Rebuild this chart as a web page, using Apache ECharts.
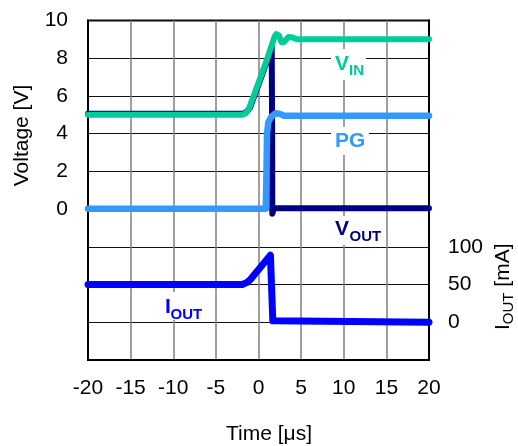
<!DOCTYPE html>
<html><head><meta charset="utf-8">
<script src="https://cdn.jsdelivr.net/npm/echarts@6/dist/echarts.min.js"></script>
<style>html,body{margin:0;padding:0;background:#fff}#c{width:518px;height:446px}</style>
</head><body><div id="c"></div>
<script>
// Data (time in µs)
const voltLabels = [0, 2, 4, 6, 8, 10];
const currLabels = [0, 50, 100];
const vinData  = [[-20,5.0],[-1.9,5.0],[-1.5,5.08],[-1.1,5.35],[0,6.7],[1.0,7.95],[1.9,9.15],[2.1,9.28],[2.4,9.2],[2.7,8.85],[3.0,8.85],[3.5,9.12],[4.0,9.1],[4.5,9.0],[20,9.0]];
const voutData = [[-20,5.06],[-1.8,5.06],[-1.4,5.15],[-1.0,5.38],[0.1,6.72],[1.1,7.98],[1.55,8.6],[1.6,4.0],[1.62,-0.25],[1.8,0.05],[20,0.05]];
const pgData   = [[-20,0.02],[0.85,0.02],[0.92,1.5],[1.0,4.0],[1.15,4.6],[1.5,4.9],[2.0,5.08],[2.5,5.05],[3.0,4.95],[20,4.95]];
const ioutData = [[-20,50],[-1.9,50],[-1.4,52.5],[-1.0,56],[1.4,89],[1.55,88],[1.68,2],[1.85,0],[20,0]];

const FONT = '"Liberation Sans", Arial, sans-serif';
const chart = echarts.init(document.getElementById('c'), null, {renderer:'canvas'});

function txt(x, y, text, color, size, weight, extra) {
  return Object.assign({
    type: 'text', x: x, y: y, z: 100,
    style: { text: text, fill: color, fontSize: size, fontWeight: weight || 'normal', fontFamily: FONT,
             textAlign: 'left', textVerticalAlign: 'middle', align: 'left', verticalAlign: 'middle' }
  }, extra || {});
}
function rect(x, y, w, h) {
  return { type: 'rect', z: 99, shape: {x: x, y: y, width: w, height: h}, style: {fill: '#fff'} };
}

const graphics = [
  rect(331, 49, 35, 31),
  txt(335, 64.2, 'V', '#00CC99', 21, 'bold'),
  txt(349, 71.2, 'IN', '#00CC99', 15, 'bold'),
  rect(331, 127, 38, 28),
  txt(335, 141, 'PG', '#3399FF', 21, 'bold'),
  rect(331, 216, 52, 29),
  txt(335, 229.5, 'V', '#000080', 21, 'bold'),
  txt(349.5, 237, 'OUT', '#000080', 15, 'bold'),
  rect(161, 292, 43, 28),
  txt(165, 307, 'I', '#0000FF', 21, 'bold'),
  txt(170.5, 314.5, 'OUT', '#0000FF', 15, 'bold'),
  // axis titles
  { type: 'text', x: 22, y: 135.5, rotation: Math.PI/2, z: 100,
    style: { text: 'Voltage [V]', fill: '#000', fontSize: 21, fontFamily: FONT,
             textAlign: 'center', textVerticalAlign: 'middle', align: 'center', verticalAlign: 'middle' } },
  { type: 'text', x: 269, y: 434, z: 100,
    style: { text: 'Time [μs]', fill: '#000', fontSize: 21, fontFamily: FONT,
             textAlign: 'center', textVerticalAlign: 'middle', align: 'center', verticalAlign: 'middle' } },
  { type: 'group', x: 503, y: 330, rotation: Math.PI/2, z: 100, children: [
    txt(0, 0, 'I', '#000', 21, 'normal'),
    txt(5.8, 6, 'OUT', '#000', 15, 'normal'),
    txt(37.5, 0, ' [mA]', '#000', 21, 'normal')
  ]}
];

const option = {
  backgroundColor: '#fff',
  animation: false,
  grid: { left: 88, right: 89, top: 20.5, bottom: 86, show: true, borderColor: '#000', borderWidth: 2, containLabel: false },
  xAxis: {
    type: 'value', min: -20, max: 20, interval: 5,
    axisLine: { show: true, onZero: false, lineStyle: { color: '#000', width: 2 } },
    axisTick: { show: false },
    axisLabel: { fontSize: 21, color: '#000', margin: 18, fontFamily: FONT },
    splitLine: { show: true, lineStyle: { color: '#808080', width: 1.5 } }
  },
  yAxis: [
    { type: 'value', min: -8, max: 10, interval: 2, position: 'left',
      axisLine: { show: true, onZero: false, lineStyle: { color: '#000', width: 2 } },
      axisTick: { show: false },
      axisLabel: { fontSize: 21, color: '#000', margin: 20, fontFamily: FONT,
                   formatter: v => voltLabels.indexOf(v) >= 0 ? String(v) : '' },
      splitLine: { show: true, lineStyle: { color: '#111', width: 1 } } },
    { type: 'value', min: -50, max: 400, interval: 50, position: 'right', alignTicks: false,
      axisLine: { show: true, onZero: false, lineStyle: { color: '#000', width: 2 } },
      axisTick: { show: false },
      axisLabel: { fontSize: 21, color: '#000', margin: 19, fontFamily: FONT,
                   formatter: v => currLabels.indexOf(v) >= 0 ? String(v) : '' },
      splitLine: { show: false } }
  ],
  series: [
    { name: 'VOUT', type: 'line', data: voutData, yAxisIndex: 0, showSymbol: false, symbol: 'none',
      lineStyle: { color: '#000080', width: 6, join: 'round', cap: 'round' } },
    { name: 'PG', type: 'line', data: pgData, yAxisIndex: 0, showSymbol: false, symbol: 'none',
      lineStyle: { color: '#3399FF', width: 6.5, join: 'round', cap: 'round' } },
    { name: 'VIN', type: 'line', data: vinData, yAxisIndex: 0, showSymbol: false, symbol: 'none',
      lineStyle: { color: '#00CC99', width: 6, join: 'round', cap: 'round' } },
    { name: 'IOUT', type: 'line', data: ioutData, yAxisIndex: 1, showSymbol: false, symbol: 'none',
      lineStyle: { color: '#0000FF', width: 7, join: 'round', cap: 'round' } }
  ],
  graphic: graphics
};
chart.setOption(option);
</script></body></html>
